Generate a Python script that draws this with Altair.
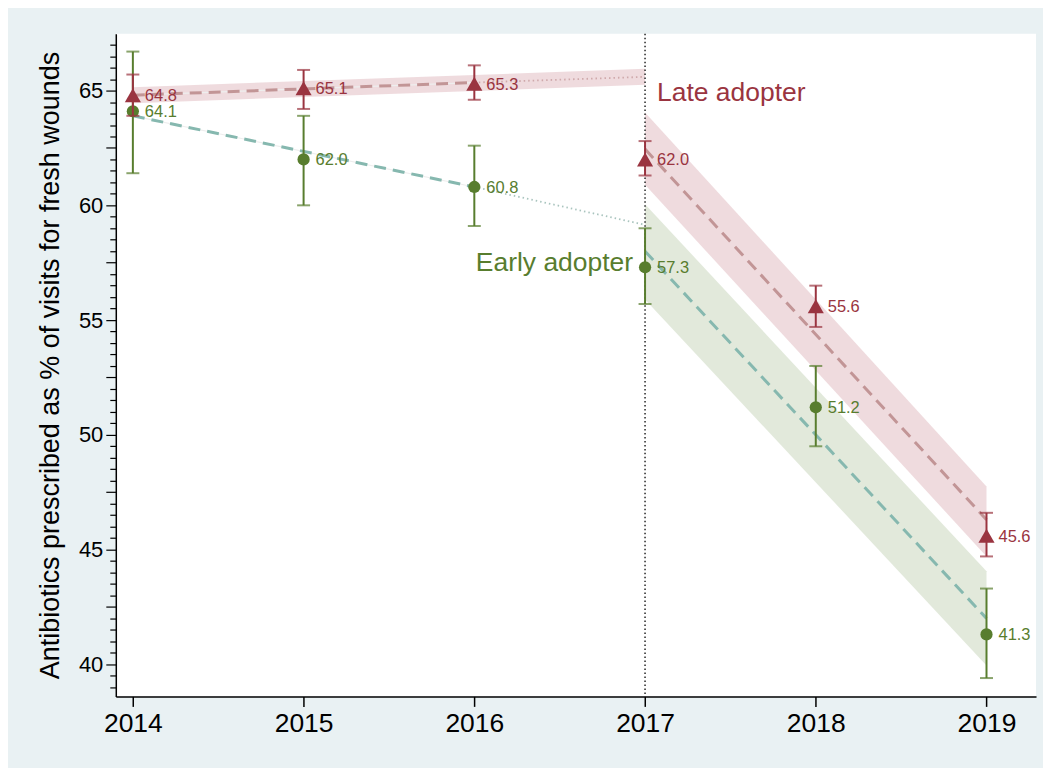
import altair as alt
import pandas as pd

# ---------------- data ----------------
years = [2014, 2015, 2016, 2017, 2018, 2019]
late = [64.8, 65.1, 65.3, 62.0, 55.6, 45.6]
late_lo = [63.9, 64.2, 64.6, 61.3, 54.7, 44.7]
late_hi = [65.7, 65.9, 66.1, 62.8, 56.5, 46.6]
early = [64.1, 62.0, 60.8, 57.3, 51.2, 41.3]
early_lo = [61.4, 60.0, 59.1, 55.7, 49.5, 39.4]
early_hi = [66.7, 63.9, 62.6, 59.0, 53.0, 43.3]

# pre-period trend (dashed 2014-2016, dotted projection 2016-2017)
pre_years = [2014, 2016, 2017]
late_pre_fit = [64.8, 65.35, 65.6]
early_pre_fit = [63.9, 60.8, 59.15]
band_pre_years = [2014, 2017]
late_pre_lo = [64.45, 65.25]
late_pre_hi = [65.15, 65.95]

# post-period trend
post_years = [2017, 2019]
late_post_fit = [62.45, 46.3]
late_post_lo = [60.9, 44.7]
late_post_hi = [64.05, 47.75]
early_post_fit = [58.0, 42.0]
early_post_lo = [55.9, 39.95]
early_post_hi = [60.05, 44.05]

y_ticks = [v / 2 for v in range(78, 135)]  # 39.0 ... 67.0 every 0.5

RED = "#9A3440"
GREEN = "#587D2E"
RED_LINE = "#C29596"
GREEN_LINE = "#86B8AF"
RED_DOT = "#CFA9AB"
GREEN_DOT = "#A9C4BE"
RED_BAND = "#D9A9B0"
GREEN_BAND = "#C5D3B8"
FONT = "Liberation Sans"

# ---------------- scales & axes ----------------
xs = alt.Scale(domain=[2013.9, 2019.29], nice=False, zero=False)
ys = alt.Scale(domain=[38.6, 67.48], nice=False, zero=False)

xaxis = alt.Axis(values=years, format="d", title=None, grid=False,
                 labelFont=FONT, labelFontSize=26.5, labelColor="black",
                 labelPadding=4, tickColor="black", tickSize=10, tickWidth=1.5,
                 domainColor="black", domainWidth=1.5, labelFlush=False)
yaxis = alt.Axis(values=y_ticks, grid=False,
                 labelExpr="datum.value % 5 === 0 ? format(datum.value, 'd') : ''",
                 labelFont=FONT, labelFontSize=22, labelColor="black",
                 labelPadding=3, labelOverlap=False, labelFlush=False,
                 tickColor="black", tickWidth=1.2,
                 tickSize={"condition": {"test": "datum.value % 2.5 === 0", "value": 10}, "value": 6},
                 domainColor="black", domainWidth=1.5,
                 title="Antibiotics prescribed as % of visits for fresh wounds",
                 titleFont=FONT, titleFontSize=27, titleFontWeight="normal",
                 titleColor="black", titlePadding=14)


def X(f):
    return alt.X(f, type="quantitative", scale=xs, axis=xaxis)


def Y(f):
    return alt.Y(f, type="quantitative", scale=ys, axis=yaxis)


obs = pd.DataFrame({"year": years, "late": late, "late_lo": late_lo, "late_hi": late_hi,
                    "early": early, "early_lo": early_lo, "early_hi": early_hi})
pre = pd.DataFrame({"year": pre_years, "late": late_pre_fit, "early": early_pre_fit})
pre_dash = pre[pre["year"] <= 2016]
pre_dot = pre[pre["year"] >= 2016]
band_pre = pd.DataFrame({"year": band_pre_years, "lo": late_pre_lo, "hi": late_pre_hi})
post = pd.DataFrame({"year": post_years, "late": late_post_fit, "late_lo": late_post_lo,
                     "late_hi": late_post_hi, "early": early_post_fit,
                     "early_lo": early_post_lo, "early_hi": early_post_hi})

layers = []

# bands
layers.append(alt.Chart(band_pre).mark_area(color=RED_BAND, opacity=0.42).encode(
    x=X("year"), y=Y("lo"), y2="hi"))
layers.append(alt.Chart(post).mark_area(color=RED_BAND, opacity=0.42).encode(
    x=X("year"), y=Y("late_lo"), y2="late_hi"))
layers.append(alt.Chart(post).mark_area(color=GREEN_BAND, opacity=0.5).encode(
    x=X("year"), y=Y("early_lo"), y2="early_hi"))

# vertical reference line at 2017
layers.append(alt.Chart(pd.DataFrame({"year": [2017]})).mark_rule(
    color="#333333", strokeDash=[1.5, 2.5], strokeWidth=1.6).encode(x=X("year")))

# pre-trend: faint underline + dashed fit, dotted projection; post-trend dashed
for col, c, cd in (("late", RED_LINE, RED_DOT), ("early", GREEN_LINE, GREEN_DOT)):
    layers.append(alt.Chart(pre_dash).mark_line(color="#EEEEEE", strokeWidth=1.2).encode(
        x=X("year"), y=Y(col)))
    layers.append(alt.Chart(pre_dash).mark_line(color=c, strokeDash=[12, 7], strokeWidth=3).encode(
        x=X("year"), y=Y(col)))
    layers.append(alt.Chart(pre_dot).mark_line(color=cd, strokeDash=[1.5, 3], strokeWidth=1.8).encode(
        x=X("year"), y=Y(col)))
    layers.append(alt.Chart(post).mark_line(color=c, strokeDash=[12, 7], strokeWidth=3).encode(
        x=X("year"), y=Y(col)))

# error bars, points, labels
for col, c, shape, size in (("early", GREEN, "circle", 150), ("late", RED, "triangle-up", 260)):
    base = alt.Chart(obs)
    layers.append(base.mark_rule(color=c, strokeWidth=2).encode(
        x=X("year"), y=Y(col + "_lo"), y2=col + "_hi"))
    layers.append(base.mark_tick(color=c, orient="horizontal", size=13, thickness=2).encode(
        x=X("year"), y=Y(col + "_lo")))
    layers.append(base.mark_tick(color=c, orient="horizontal", size=13, thickness=2).encode(
        x=X("year"), y=Y(col + "_hi")))
    layers.append(base.mark_point(color=c, filled=True, opacity=1, shape=shape, size=size).encode(
        x=X("year"), y=Y(col)))
    layers.append(base.mark_text(color=c, align="left", baseline="middle", dx=12, dy=1,
                                 font=FONT, fontSize=16.5).encode(
        x=X("year"), y=Y(col), text=alt.Text(col + ":Q", format=".1f")))

# group labels
layers.append(alt.Chart(pd.DataFrame({"t": ["Late adopter"]})).mark_text(
    color=RED, align="left", baseline="middle", dx=12, font=FONT, fontSize=26.5).encode(
    x=alt.datum(2017, scale=xs, axis=xaxis), y=alt.datum(64.9, scale=ys, axis=yaxis), text="t:N"))
layers.append(alt.Chart(pd.DataFrame({"t": ["Early adopter"]})).mark_text(
    color=GREEN, align="right", baseline="middle", dx=-12, font=FONT, fontSize=26.5).encode(
    x=alt.datum(2017, scale=xs, axis=xaxis), y=alt.datum(57.5, scale=ys, axis=yaxis), text="t:N"))

chart = alt.layer(*layers).properties(
    width=922, height=664,
    autosize=alt.AutoSizeParams(type="none"),
    padding={"left": 108, "top": 25, "right": 7, "bottom": 71},
    background="#E9F1F3",
).configure_view(fill="white", stroke=None)

chart.save("out.html", embed_options={"renderer": "svg", "actions": False})
